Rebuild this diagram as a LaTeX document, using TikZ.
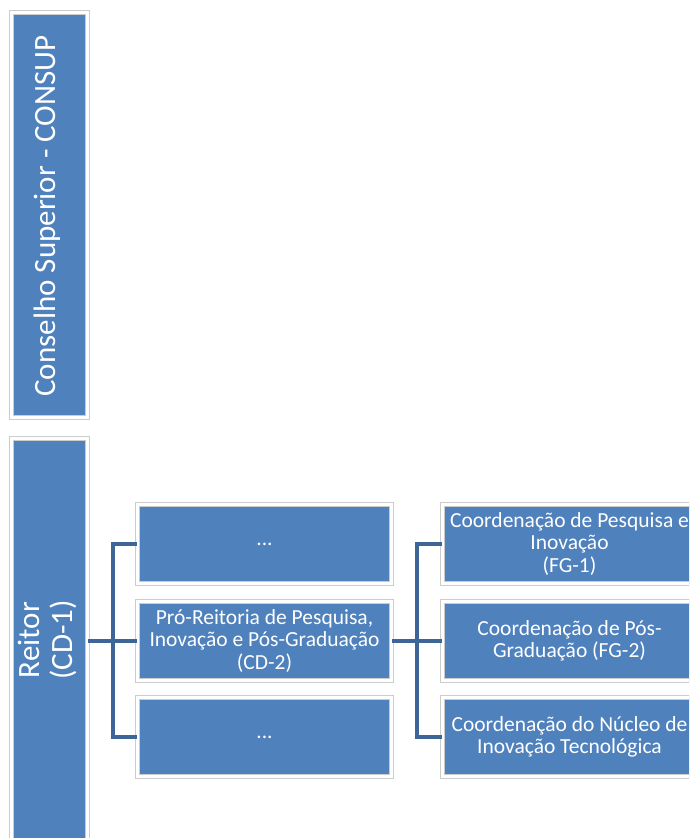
\documentclass[tikz,border=0pt]{standalone}
\usepackage{fontspec}
\setmainfont{Carlito}
\definecolor{BoxBlue}{RGB}{79,129,189}
\definecolor{LineBlue}{RGB}{62,101,152}

\tikzset{
  BoxStyle/.style={draw=gray!40, double=white, double distance=3.6pt, line width=0.8pt,
    fill=BoxBlue, text=white, align=center, inner sep=1pt,
    font=\fontsize{21.5}{22.5}\selectfont},
  SideText/.style={rotate=90, text=white, align=center, font=\fontsize{31}{33}\selectfont},
  EdgeStyle/.style={draw=LineBlue, line width=4.5pt}
}

\begin{document}
\begin{tikzpicture}[x=1pt, y=-1pt]
    \useasboundingbox (0,0) rectangle (689,838);
    \clip (0,0) rectangle (689,838);

    \node[BoxStyle, minimum width=76pt, minimum height=405pt] (CONSUP) at (49.5,215) {};
    \node[SideText] at (47,216) {Conselho Superior - CONSUP};
    \node[BoxStyle, minimum width=76pt, minimum height=405pt] (R) at (49.5,641) {};
    \node[SideText] at (47,640) {Reitor\\(CD-1)};

    \node[BoxStyle, minimum width=254pt, minimum height=79pt] (P1) at (264.5,544) {...};
    \node[BoxStyle, minimum width=254pt, minimum height=79pt] (P2) at (264.5,641)
        {Pró-Reitoria de Pesquisa,\\Inovação e Pós-Graduação\\(CD-2)};
    \node[BoxStyle, minimum width=254pt, minimum height=79pt] (P3) at (264.5,737) {...};

    \node[BoxStyle, minimum width=254pt, minimum height=79pt] (C1) at (569.5,544)
        {Coordenação de Pesquisa e\\Inovação\\(FG-1)};
    \node[BoxStyle, minimum width=254pt, minimum height=79pt] (C2) at (569.5,641)
        {Coordenação de Pós-\\Graduação (FG-2)};
    \node[BoxStyle, minimum width=254pt, minimum height=79pt] (C3) at (569.5,737)
        {Coordenação do Núcleo de\\Inovação Tecnológica};

    \coordinate (forkP) at (113,641);
    \coordinate (forkC) at (417,641);

    \draw[EdgeStyle] (R.east) -- (P2.west);
    \draw[EdgeStyle] (P1.west) -| (forkP) |- (P3.west);
    \draw[EdgeStyle] (P2.east) -- (C2.west);
    \draw[EdgeStyle] (C1.west) -| (forkC) |- (C3.west);
\end{tikzpicture}
\end{document}
